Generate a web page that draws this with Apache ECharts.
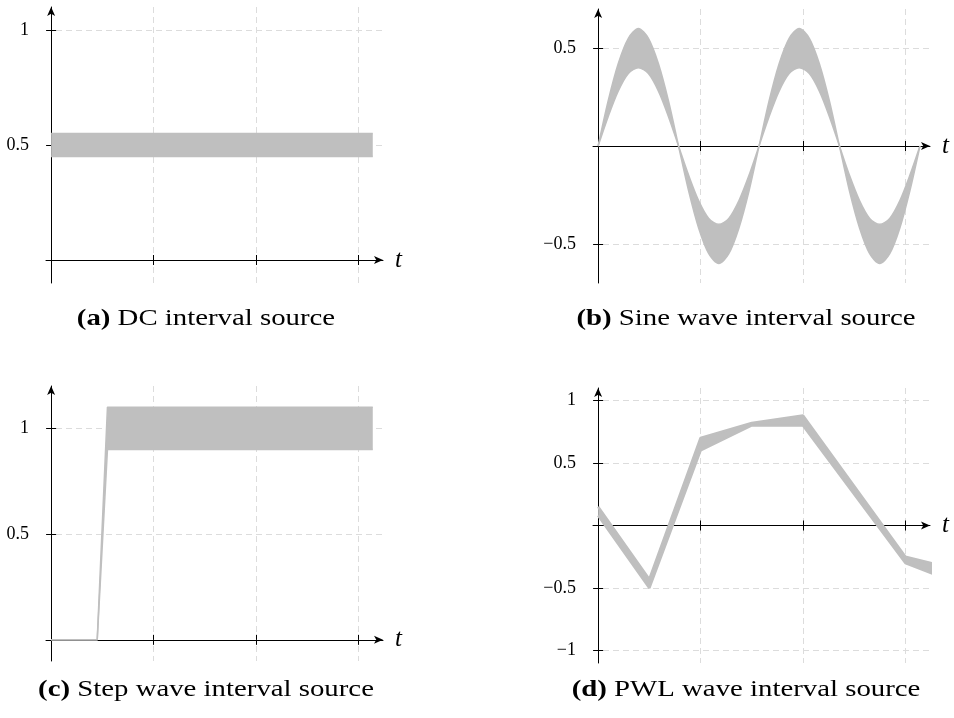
<!DOCTYPE html>
<html>
<head>
<meta charset="utf-8">
<title>Interval sources</title>
<script src="https://cdn.jsdelivr.net/npm/echarts@6.0.0/dist/echarts.min.js"></script>
<style>
html, body { margin: 0; padding: 0; background: #fff; }
#chart { width: 954px; height: 718px; }
</style>
</head>
<body>
<div id="chart"></div>
<script>
// time ticks shared by all four panels
const timeTicks = [1, 2, 3]

// (a) DC interval source
const dcT = [0, 3.14]
const dcLower = [0.45, 0.45]
const dcUpper = [0.55, 0.55]
const dcTicks = [0.5, 1]

// (b) sine wave interval source
const sineT = [0, 0.098, 0.196, 0.295, 0.393, 0.491, 0.589, 0.687, 0.785, 0.884, 0.982, 1.08, 1.178, 1.276, 1.374, 1.473, 1.571,
  1.669, 1.767, 1.865, 1.963, 2.062, 2.16, 2.258, 2.356, 2.454, 2.553, 2.651, 2.749, 2.847, 2.945, 3.043, 3.142]
const sineInner = [0, 0.15, 0.28, 0.37, 0.4, 0.37, 0.28, 0.15, 0, -0.15, -0.28, -0.37, -0.4, -0.37, -0.28, -0.15, 0,
  0.15, 0.28, 0.37, 0.4, 0.37, 0.28, 0.15, 0, -0.15, -0.28, -0.37, -0.4, -0.37, -0.28, -0.15, 0]
const sineOuter = [0, 0.23, 0.42, 0.55, 0.6, 0.55, 0.42, 0.23, 0, -0.23, -0.42, -0.55, -0.6, -0.55, -0.42, -0.23, 0,
  0.23, 0.42, 0.55, 0.6, 0.55, 0.42, 0.23, 0, -0.23, -0.42, -0.55, -0.6, -0.55, -0.42, -0.23, 0]
const sineTicks = [-0.5, 0.5]

// (c) step wave interval source
const stepT = [0, 0.45, 0.55, 3.14]
const stepLower = [0, 0, 0.9, 0.9]
const stepUpper = [0, 0, 1.1, 1.1]
const stepTicks = [0.5, 1]

// (d) PWL wave interval source
const pwlT = [0, 0.5, 1, 1.5, 2, 3, 3.5]
const pwlLower = [0.08, -0.5, 0.6, 0.8, 0.8, -0.3, -0.46]
const pwlUpper = [0.15, -0.43, 0.7, 0.82, 0.88, -0.25, -0.35]
const pwlTicks = [-1, -0.5, 0.5, 1]

const bandColor = '#bfbfbf'
const gridColor = '#dcdcdc'
const labelFont = "'Liberation Serif', 'Times New Roman', Times, serif"

const panels = [
  { rect: { left: 46, top: 7, width: 337, height: 276 }, yMin: -0.1, yMax: 1.1, yTicks: dcTicks, edge: 1.5,
    t: dcT, lower: dcLower, upper: dcUpper, smooth: false, tag: '(a)', caption: 'DC interval source', cx: 206, cy: 319 },
  { rect: { left: 593, top: 9, width: 337, height: 274 }, yMin: -0.7, yMax: 0.7, yTicks: sineTicks, edge: 1.5,
    t: sineT, lower: sineInner, upper: sineOuter, smooth: 0.3, tag: '(b)', caption: 'Sine wave interval source', cx: 746, cy: 319 },
  { rect: { left: 46, top: 386, width: 337, height: 275 }, yMin: -0.1, yMax: 1.2, yTicks: stepTicks, edge: 1.5,
    t: stepT, lower: stepLower, upper: stepUpper, smooth: false, tag: '(c)', caption: 'Step wave interval source', cx: 206, cy: 690 },
  { rect: { left: 593, top: 388, width: 337, height: 275 }, yMin: -1.1, yMax: 1.1, yTicks: pwlTicks, edge: 2.5,
    t: pwlT, lower: pwlLower, upper: pwlUpper, smooth: false, tag: '(d)', caption: 'PWL wave interval source', cx: 746, cy: 690 }
]

const fmt = v => (v < 0 ? '\u2212' + Math.abs(v) : String(v))

const grids = []
const xAxes = []
const yAxes = []
const series = []

panels.forEach((p, i) => {
  const main = 2 * i
  const over = 2 * i + 1
  // two grids on the same rect: one draws outward ticks, the other inward ones
  grids.push(Object.assign({ outerBoundsMode: 'none' }, p.rect))
  grids.push(Object.assign({ outerBoundsMode: 'none' }, p.rect))

  xAxes.push({
    type: 'value', gridIndex: main, min: -0.05, max: 3.24,
    axisLine: { onZero: true, symbol: ['none', 'arrow'], symbolSize: [6, 9], lineStyle: { color: '#000', width: 1 } },
    axisTick: { customValues: timeTicks, length: 5, lineStyle: { color: '#000' } },
    axisLabel: { show: false },
    splitLine: { show: true, lineStyle: { color: gridColor, width: 1, type: [6, 4] } },
    name: 't', nameLocation: 'end', nameGap: 12,
    nameTextStyle: { fontFamily: labelFont, fontStyle: 'italic', fontSize: 25, color: '#000' }
  })
  xAxes.push({
    type: 'value', gridIndex: over, min: -0.05, max: 3.24,
    axisLine: { onZero: true, lineStyle: { color: '#000', opacity: 0 } },
    axisTick: { customValues: timeTicks, inside: true, length: 5, lineStyle: { color: '#000' } },
    axisLabel: { show: false },
    splitLine: { show: false }
  })

  yAxes.push({
    type: 'value', gridIndex: main, min: p.yMin, max: p.yMax,
    axisLine: { onZero: true, symbol: ['none', 'arrow'], symbolSize: [6, 9], lineStyle: { color: '#000', width: 1 } },
    axisTick: { customValues: p.yTicks, length: 5, lineStyle: { color: '#000' } },
    axisLabel: { customValues: p.yTicks, formatter: fmt, margin: 17, fontFamily: labelFont, fontSize: 18, color: '#000' },
    splitLine: { show: true, lineStyle: { color: gridColor, width: 1, type: [6, 4] } }
  })
  yAxes.push({
    type: 'value', gridIndex: over, min: p.yMin, max: p.yMax,
    axisLine: { onZero: true, lineStyle: { color: '#000', opacity: 0 } },
    axisTick: { customValues: p.yTicks, inside: true, length: 5, lineStyle: { color: '#000' } },
    axisLabel: { show: false },
    splitLine: { show: false }
  })

  // band = lower bound + (upper - lower) stacked on top of it.
  // value goes first in each item so the stack runs along y, not t
  series.push({
    type: 'line', xAxisIndex: main, yAxisIndex: main, stack: 'band' + i, stackStrategy: 'all',
    encode: { x: 1, y: 0 },
    data: p.t.map((t, k) => [p.lower[k], t]),
    symbol: 'none', smooth: p.smooth, silent: true, z: 3,
    lineStyle: { color: bandColor, width: p.edge }
  })
  series.push({
    type: 'line', xAxisIndex: main, yAxisIndex: main, stack: 'band' + i, stackStrategy: 'all',
    encode: { x: 1, y: 0 },
    data: p.t.map((t, k) => [p.upper[k] - p.lower[k], t]),
    symbol: 'none', smooth: p.smooth, silent: true, z: 3,
    lineStyle: { color: bandColor, width: p.edge },
    areaStyle: { color: bandColor, opacity: 1 }
  })
})

const captions = panels.map(p => ({
  type: 'text', x: p.cx, y: p.cy, scaleX: 1.2,
  style: {
    text: '{b|' + p.tag + '} ' + p.caption,
    fill: '#000', fontFamily: labelFont, fontSize: 24,
    align: 'center', verticalAlign: 'middle',
    rich: { b: { fontFamily: labelFont, fontSize: 24, fontWeight: 'bold', fill: '#000' } }
  }
}))

const chart = echarts.init(document.getElementById('chart'))
chart.setOption({
  animation: false,
  backgroundColor: '#fff',
  grid: grids,
  xAxis: xAxes,
  yAxis: yAxes,
  series: series,
  graphic: captions
})
</script>
</body>
</html>
